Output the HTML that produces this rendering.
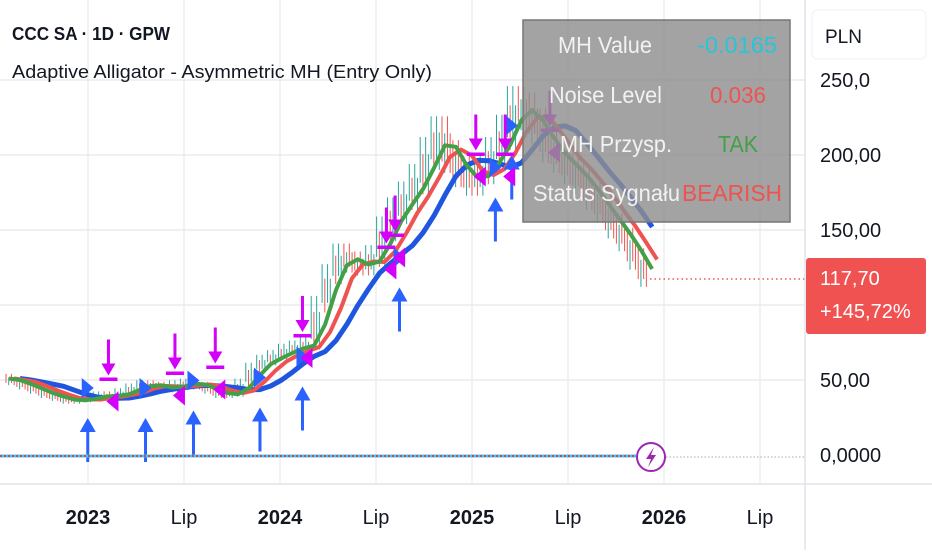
<!DOCTYPE html>
<html><head><meta charset="utf-8">
<style>
html,body{margin:0;padding:0;background:#fff;}
body{width:932px;height:550px;overflow:hidden;font-family:"Liberation Sans",sans-serif;}
svg text{font-family:"Liberation Sans",sans-serif;}
</style></head>
<body>
<svg id="chart" width="932" height="550" xmlns="http://www.w3.org/2000/svg">
  <g id="grid"></g>
  <g id="candles"></g>
  <g id="lines"></g>
  <g id="signals"></g>
  <line x1="650" y1="279" x2="805" y2="279" stroke="#e53935" stroke-width="1.2" stroke-dasharray="1.5,3"/>
  <g>
    <line x1="0" y1="456" x2="636" y2="456" stroke="#4fc3f7" stroke-width="3"/>
    <line x1="0" y1="456" x2="636" y2="456" stroke="#c0504d" stroke-width="2" stroke-dasharray="2,2"/>
    <line x1="666" y1="457" x2="805" y2="457" stroke="#bbb" stroke-width="1.2" stroke-dasharray="1.5,2"/>
  </g>
  <g>
    <circle cx="651" cy="457" r="14" fill="#fff" stroke="#9c27b0" stroke-width="2"/>
    <path d="M654 447 L646 459 L651 459 L648 467 L656 455 L651 455 Z" fill="#9c27b0"/>
  </g>
  <!-- info table -->
  <g>
    <rect x="523" y="20" width="267" height="202" fill="#8f8f8f" fill-opacity="0.82" stroke="#777" stroke-width="1.5"/>
    <g font-size="23" fill="#f2f2f2">
      <text x="558" y="53" textLength="94" lengthAdjust="spacingAndGlyphs">MH Value</text>
      <text x="549" y="103" textLength="113" lengthAdjust="spacingAndGlyphs">Noise Level</text>
      <text x="560" y="152" textLength="112" lengthAdjust="spacingAndGlyphs">MH Przysp.</text>
      <text x="533" y="201" textLength="147" lengthAdjust="spacingAndGlyphs">Status Sygnału</text>
      <text x="697" y="53" textLength="80" lengthAdjust="spacingAndGlyphs" fill="#26c6da">-0.0165</text>
      <text x="710" y="103" textLength="56" lengthAdjust="spacingAndGlyphs" fill="#ef5350">0.036</text>
      <text x="718" y="152" textLength="40" lengthAdjust="spacingAndGlyphs" fill="#43a047">TAK</text>
      <text x="682" y="201" textLength="100" lengthAdjust="spacingAndGlyphs" fill="#ef5350">BEARISH</text>
    </g>
  </g>
  <!-- header -->
  <text x="12" y="40" font-size="18" font-weight="bold" fill="#131722" textLength="158" lengthAdjust="spacingAndGlyphs">CCC SA · 1D · GPW</text>
  <text x="12" y="78" font-size="18" fill="#131722" textLength="420" lengthAdjust="spacingAndGlyphs">Adaptive Alligator  - Asymmetric MH (Entry Only)</text>
  <!-- axes -->
  <line x1="805" y1="0" x2="805" y2="550" stroke="#e0e3eb" stroke-width="1.5"/>
  <line x1="0" y1="484" x2="932" y2="484" stroke="#e0e3eb" stroke-width="1.5"/>
  <g id="yaxis" font-size="20" fill="#131722"></g>
  <g>
    <rect x="812" y="10" width="114" height="49" rx="6" fill="#fff" stroke="#eef0f3"/>
    <text x="825" y="43" font-size="19" fill="#131722">PLN</text>
  </g>
  <g>
    <rect x="806" y="258" width="120" height="76" rx="3" fill="#f05252"/>
    <text x="820" y="285" font-size="20" fill="#fff">117,70</text>
    <text x="820" y="318" font-size="20" fill="#fff">+145,72%</text>
  </g>
  <g id="xaxis" font-size="20" fill="#131722"></g>
</svg>
<script>
// ---- data ----
const priceTicks = [250, 200, 150, 50, 0];
const priceTickLabels = ["250,0", "200,00", "150,00", "50,00", "0,0000"];
const timeTickLabels = ["2023", "Lip", "2024", "Lip", "2025", "Lip", "2026", "Lip"];
const timeTickMonths = [0, 6, 12, 18, 24, 30, 36, 42]; // months since Jan 2023
const timeTickBold = [1, 0, 1, 0, 1, 0, 1, 0];
// closing prices, one per period (~0.68 month), starting mid-2022
const closes = [51,49,46,43,40,38,36,37,38,40,39,42,45,47,46,44,47,48,46,43,40,41,48,58,63,66,70,72,74,100,120,133,128,126,132,150,162,172,183,200,213,198,188,182,190,200,214,232,228,218,205,198,190,183,172,163,152,143,130,118];
// signals: period index, price
const buyPeriods = [7.5, 12.8, 17.2, 23.3, 27.2, 36.1, 44.9, 46.4];
const buyPrices = [10, 10, 15, 17, 31, 97, 157, 185];
const sellPeriods = [9.4, 15.5, 19.2, 27.2, 34.9, 35.7, 43.1, 45.8, 49.9];
const sellPrices = [57, 61, 65, 86, 145, 153, 207, 207, 223];

// ---- axes ----
const PX = 10.9;
function xs(i){ return 6 + i*PX; }
function xm(m){ return 88 + m*96/6; }
function ys(v){ return 455 - 1.5*v; }
const NS='http://www.w3.org/2000/svg';
function mk(tag, attrs, parent){ const e=document.createElementNS(NS,tag); for(const k in attrs) e.setAttribute(k,attrs[k]); parent.appendChild(e); return e; }

const grid=document.getElementById('grid');
[250,200,150,100,50].forEach(v=>{ mk('line',{x1:0,x2:805,y1:ys(v),y2:ys(v),stroke:'#e6e8ec','stroke-width':1.2},grid); });
timeTickMonths.forEach(m=>{ const x=xm(m); mk('line',{x1:x,x2:x,y1:0,y2:484,stroke:'#e6e8ec','stroke-width':1.2},grid); });

const ya=document.getElementById('yaxis');
priceTicks.forEach((v,i)=>{
  const t=mk('text',{x:820,y:ys(v)+7},ya); t.textContent=priceTickLabels[i];
  
  
});
const xa=document.getElementById('xaxis');
timeTickMonths.forEach((m,i)=>{
  const t=mk('text',{x:xm(m),y:524,'text-anchor':'middle','font-weight':timeTickBold[i]?'bold':'normal'},xa);
  t.textContent=timeTickLabels[i];
  
  
});

// ---- candles (thin wicks) ----
const cg=document.getElementById('candles');
for(let i=1;i<closes.length;i++){
  const up=closes[i]>=closes[i-1];
  const hi=Math.max(closes[i],closes[i-1])*1.06, lo=Math.min(closes[i],closes[i-1])*0.95;
  for(let k=0;k<4;k++){
    const x=xs(i-1)+k*PX/4;
    const c=mk('line',{x1:x,x2:x,y1:ys(hi-(k%2)*(hi-lo)*0.3),y2:ys(lo+((k+1)%2)*(hi-lo)*0.2),stroke:(up^(k==1))?'#26a69a':'#ef5350','stroke-width':1},cg);
    
    
  }
}

// ---- alligator lines (smoothed + shifted) ----
function smooth(n, shift){
  const out=[];
  for(let i=0;i<closes.length;i++){
    let s=0,c=0; for(let j=Math.max(0,i-n+1);j<=i;j++){s+=closes[j];c++;}
    out.push([xs(i)+shift, s/c]);
  }
  return out;
}
const lg=document.getElementById('lines');
[[5,14,'#1e56e0',5,'jaw-line'],[3,8,'#ef5350',4,'teeth-line'],[2,3,'#43a047',4,'lips-line']].forEach(([n,sh,col,w,name])=>{
  const pts=smooth(n,sh).filter(p=>p[0]<=658);
  const d=pts.map((p,i)=>(i?'L':'M')+p[0].toFixed(1)+' '+ys(p[1]).toFixed(1)).join(' ');
  const p=mk('path',{d:d,fill:'none',stroke:col,'stroke-width':w,'stroke-linejoin':'round'},lg);
  
  
});

// ---- signals ----
const sg=document.getElementById('signals');
buyPeriods.forEach((p,i)=>{
  const x=xs(p), y=ys(buyPrices[i]);
  const g=mk('g',{},sg);
  
  
  mk('line',{x1:x,x2:x,y1:y-12,y2:y+22,stroke:'#2962ff','stroke-width':3},g);
  mk('path',{d:`M${x-8} ${y-8} L${x} ${y-22} L${x+8} ${y-8} Z`,fill:'#2962ff'},g);
  mk('path',{d:`M${x-6} ${y-62} L${x+6} ${y-52} L${x-6} ${y-42} Z`,fill:'#2962ff'},g);
});
sellPeriods.forEach((p,i)=>{
  const x=xs(p), y=ys(sellPrices[i]);
  const g=mk('g',{},sg);
  
  
  mk('line',{x1:x,x2:x,y1:y-30,y2:y,stroke:'#d500f9','stroke-width':3},g);
  mk('path',{d:`M${x-7} ${y-6} L${x} ${y+6} L${x+7} ${y-6} Z`,fill:'#d500f9'},g);
  mk('rect',{x:x-9,y:y+8,width:18,height:3.5,fill:'#d500f9'},g);
  mk('path',{d:`M${x+10} ${y+22} L${x-2} ${y+32} L${x+10} ${y+42} Z`,fill:'#d500f9'},g);
});
</script>
</body></html>
